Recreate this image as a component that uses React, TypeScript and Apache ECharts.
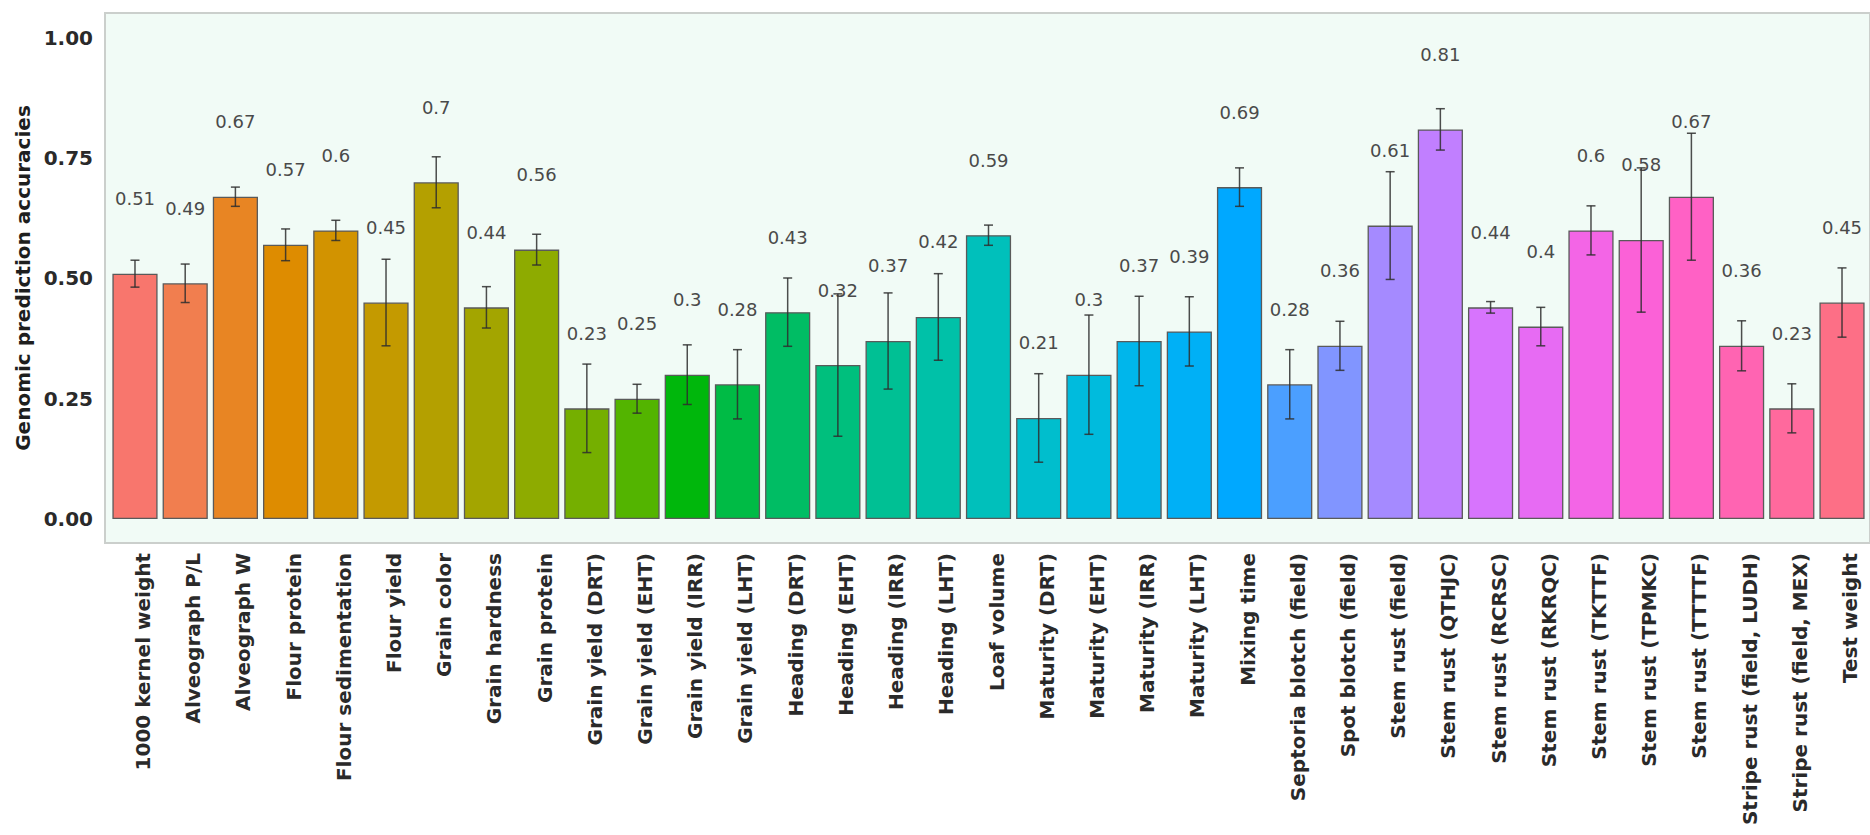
import React, { useEffect, useRef } from "react";
import * as echarts from "echarts";

// Traits, in plotting order
const traits: string[] = [
  "1000 kernel weight",
  "Alveograph P/L",
  "Alveograph W",
  "Flour protein",
  "Flour sedimentation",
  "Flour yield",
  "Grain color",
  "Grain hardness",
  "Grain protein",
  "Grain yield (DRT)",
  "Grain yield (EHT)",
  "Grain yield (IRR)",
  "Grain yield (LHT)",
  "Heading (DRT)",
  "Heading (EHT)",
  "Heading (IRR)",
  "Heading (LHT)",
  "Loaf volume",
  "Maturity (DRT)",
  "Maturity (EHT)",
  "Maturity (IRR)",
  "Maturity (LHT)",
  "Mixing time",
  "Septoria blotch (field)",
  "Spot blotch (field)",
  "Stem rust (field)",
  "Stem rust (QTHJC)",
  "Stem rust (RCRSC)",
  "Stem rust (RKRQC)",
  "Stem rust (TKTTF)",
  "Stem rust (TPMKC)",
  "Stem rust (TTTTF)",
  "Stripe rust (field, LUDH)",
  "Stripe rust (field, MEX)",
  "Test weight",
];

// Mean genomic prediction accuracy per trait
const accuracy: number[] = [
  0.51, 0.49, 0.67, 0.57, 0.6, 0.45, 0.7, 0.44, 0.56, 0.23, 0.25, 0.3, 0.28,
  0.43, 0.32, 0.37, 0.42, 0.59, 0.21, 0.3, 0.37, 0.39, 0.69, 0.28, 0.36, 0.61,
  0.81, 0.44, 0.4, 0.6, 0.58, 0.67, 0.36, 0.23, 0.45,
];

// Half-width of the error bar around each mean
const errorHalf: number[] = [
  0.028, 0.04, 0.02, 0.033, 0.021, 0.09, 0.053, 0.043, 0.032, 0.092, 0.03,
  0.062, 0.072, 0.071, 0.148, 0.1, 0.09, 0.021, 0.092, 0.124, 0.093, 0.072,
  0.04, 0.072, 0.051, 0.112, 0.043, 0.012, 0.04, 0.051, 0.15, 0.132, 0.052,
  0.051, 0.072,
];

const yTicks: number[] = [0, 0.25, 0.5, 0.75, 1];

// Layout of the plotting panel (px)
const PANEL_LEFT = 105;
const PANEL_TOP = 13;
const PANEL_BOTTOM = 292;
const PANEL_RIGHT = -2;
const Y_MIN = -0.05;
const Y_MAX = 1.052;
const LABEL_RISE = 0.156; // value labels sit this far above each bar (data units)

// ggplot-style evenly spaced hues in HCL space (c = 100, l = 65)
function hclToHex(h: number, c: number, l: number): string {
  const hr = (h * Math.PI) / 180;
  const U = c * Math.cos(hr);
  const V = c * Math.sin(hr);
  const Xn = 95.047, Yn = 100, Zn = 108.883;
  const den = Xn + 15 * Yn + 3 * Zn;
  const un = (4 * Xn) / den;
  const vn = (9 * Yn) / den;
  const Y = Yn * Math.pow((l + 16) / 116, 3);
  const up = U / (13 * l) + un;
  const vp = V / (13 * l) + vn;
  const X = (Y * 9 * up) / (4 * vp);
  const Z = (Y * (12 - 3 * up - 20 * vp)) / (4 * vp);
  const x = X / 100, y = Y / 100, z = Z / 100;
  const lin = [
    3.2404542 * x - 1.5371385 * y - 0.4985314 * z,
    -0.969266 * x + 1.8760108 * y + 0.041556 * z,
    0.0556434 * x - 0.2040259 * y + 1.0572252 * z,
  ];
  return (
    "#" +
    lin
      .map((v) => {
        const g = v <= 0.0031308 ? 12.92 * v : 1.055 * Math.pow(v, 1 / 2.4) - 0.055;
        const n = Math.round(Math.min(1, Math.max(0, g)) * 255);
        return n.toString(16).padStart(2, "0");
      })
      .join("")
  );
}

function huePalette(n: number): string[] {
  const out: string[] = [];
  for (let i = 0; i < n; i++) out.push(hclToHex(15 + (360 * i) / n, 100, 65));
  return out;
}

export default function App() {
  const ref = useRef<HTMLDivElement>(null);

  useEffect(() => {
    if (!ref.current) return;
    const chart = echarts.init(ref.current, undefined, { renderer: "svg" });

    const W = 1870;
    const H = 835;
    const panelW = W - PANEL_LEFT - PANEL_RIGHT;
    const panelH = H - PANEL_TOP - PANEL_BOTTOM;
    // discrete scale padding: 0.6 of a band on each side -> inset of 0.1 band
    const inset = (panelW * 0.1) / (traits.length + 1.2);
    const unitPx = panelH / (Y_MAX - Y_MIN);
    const valueFont = 18;
    const labelDistance = LABEL_RISE * unitPx - valueFont / 2;

    const colors = huePalette(traits.length);
    const font = "'DejaVu Sans', 'Liberation Sans', sans-serif";

    const errData = traits.map((_, i) => [
      i,
      accuracy[i] - errorHalf[i],
      accuracy[i] + errorHalf[i],
    ]);

    chart.setOption({
      animation: false,
      backgroundColor: "#ffffff",
      grid: [
        {
          left: PANEL_LEFT,
          top: PANEL_TOP,
          right: PANEL_RIGHT,
          bottom: PANEL_BOTTOM,
          show: true,
          backgroundColor: "#f1fbf6",
          borderColor: "#cbcfcc",
          borderWidth: 2,
        },
        {
          left: PANEL_LEFT + inset,
          top: PANEL_TOP,
          right: PANEL_RIGHT + inset,
          bottom: PANEL_BOTTOM,
        },
      ],
      xAxis: [
        { gridIndex: 0, type: "value", show: false, min: 0, max: 1 },
        {
          gridIndex: 1,
          type: "category",
          data: traits,
          axisLine: { show: false },
          axisTick: { show: false },
          axisLabel: {
            interval: 0,
            rotate: 90,
            margin: 10,
            verticalAlign: "top",
            lineHeight: 16,
            fontFamily: font,
            fontWeight: "bold",
            fontSize: 20,
            color: "#2a2a2a",
          },
        },
      ],
      yAxis: [
        {
          gridIndex: 0,
          type: "value",
          min: Y_MIN,
          max: Y_MAX,
          name: "Genomic prediction accuracies",
          nameLocation: "middle",
          nameGap: 66,
          nameTextStyle: {
            fontFamily: font,
            fontWeight: "bold",
            fontSize: 20,
            color: "#1e1e1e",
          },
          axisLine: { show: false },
          axisTick: { show: false },
          splitLine: { show: false },
          axisLabel: {
            customValues: yTicks,
            margin: 12,
            fontFamily: font,
            fontWeight: "bold",
            fontSize: 20,
            color: "#2a2a2a",
            formatter: (v: number) => v.toFixed(2),
          },
        },
        {
          gridIndex: 1,
          type: "value",
          min: Y_MIN,
          max: Y_MAX,
          show: false,
          splitLine: { show: false },
        },
      ],
      series: [
        {
          type: "bar",
          xAxisIndex: 1,
          yAxisIndex: 1,
          barWidth: "90%",
          data: accuracy.map((v, i) => ({
            value: v,
            itemStyle: { color: colors[i] },
          })),
          itemStyle: { borderColor: "#5a5a5a", borderWidth: 1.3 },
          label: {
            show: true,
            position: "top",
            distance: labelDistance,
            fontFamily: font,
            fontSize: valueFont,
            color: "#4a4a4a",
            formatter: "{c}",
          },
          z: 2,
        },
        {
          type: "custom",
          xAxisIndex: 1,
          yAxisIndex: 1,
          data: errData,
          z: 3,
          renderItem: (params: any, api: any) => {
            const x = api.value(0);
            const lo = api.coord([x, api.value(1)]);
            const hi = api.coord([x, api.value(2)]);
            const cap = 4.5;
            const style = { stroke: "#2e2e2e", lineWidth: 1.5, opacity: 0.85 };
            return {
              type: "group",
              children: [
                { type: "line", shape: { x1: hi[0], y1: hi[1], x2: lo[0], y2: lo[1] }, style },
                { type: "line", shape: { x1: hi[0] - cap, y1: hi[1], x2: hi[0] + cap, y2: hi[1] }, style },
                { type: "line", shape: { x1: lo[0] - cap, y1: lo[1], x2: lo[0] + cap, y2: lo[1] }, style },
              ],
            };
          },
        },
      ],
    });

    return () => chart.dispose();
  }, []);

  return (
    <div
      ref={ref}
      style={{
        position: "fixed",
        left: 0,
        top: 0,
        width: 1870,
        height: 835,
        background: "#ffffff",
      }}
    />
  );
}
